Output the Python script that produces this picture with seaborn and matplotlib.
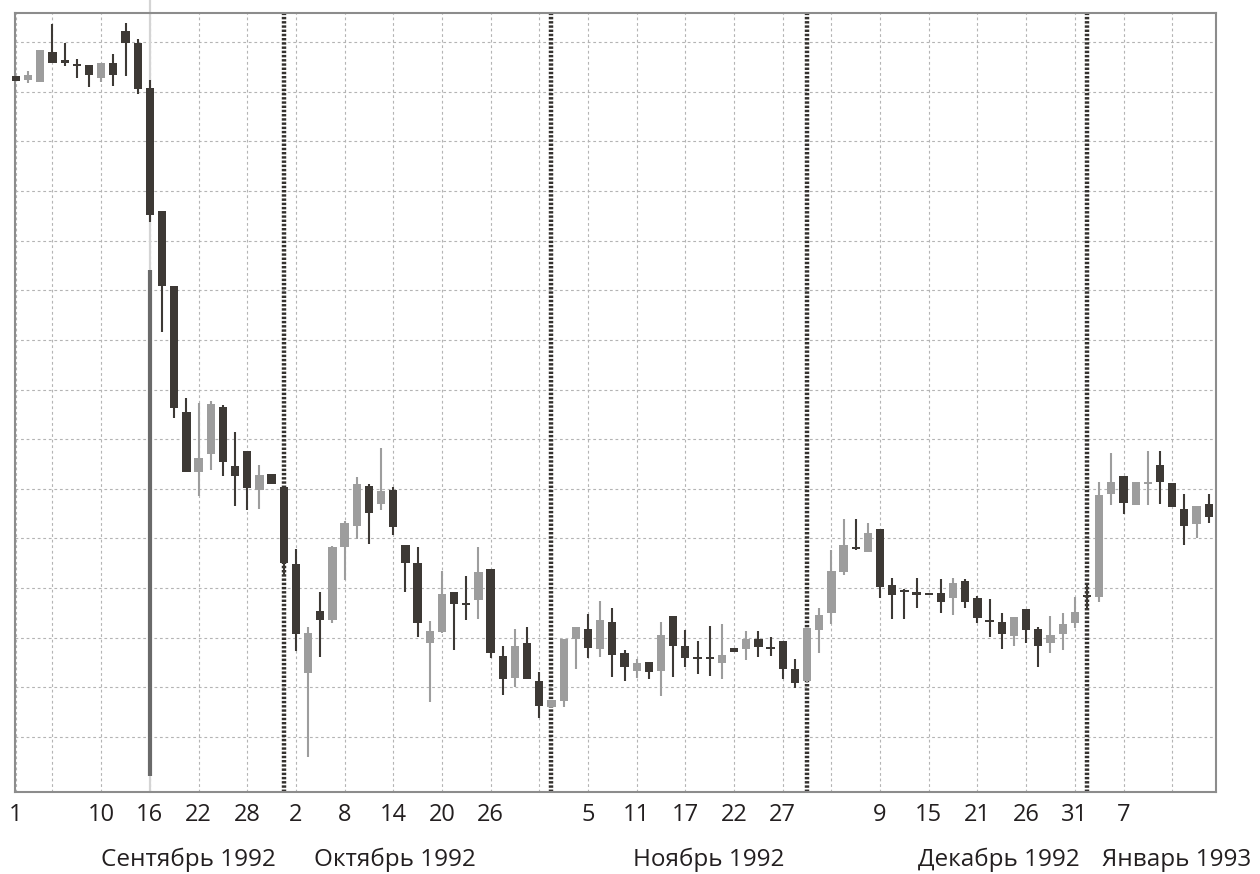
import numpy as np
import pandas as pd
import matplotlib
matplotlib.use("Agg")
import matplotlib.pyplot as plt
import matplotlib.transforms as mtransforms
import seaborn as sns

# ---------------- data (price level in chart units, one candle per trading day) ----------------
open_ = [712, 708, 706, 736, 728, 724, 723, 710, 725, 757,
         745, 700, 577, 502, 376, 316, 334, 381, 322, 337,
         298, 314, 301, 224, 115, 177, 168, 241, 262, 302,
         284, 298, 243, 225, 145, 156, 196, 185, 188, 219,
         132, 110, 145, 107, 81, 87, 149, 159, 139, 166,
         135, 117, 126, 117, 172, 142, 131, 131, 125, 140,
         139, 149, 141, 147, 119, 107, 158, 175, 216, 241,
         236, 259, 203, 198, 196, 195, 195, 190, 207, 190,
         168, 166, 152, 179, 159, 145, 154, 165, 193, 191,
         294, 312, 283, 304, 323, 305, 279, 264, 284]
high = [712, 717, 738, 764, 745, 729, 723, 725, 734, 765,
        749, 708, 577, 502, 390, 385, 387, 383, 356, 337,
        323, 314, 301, 239, 161, 196, 242, 267, 311, 304,
        340, 301, 243, 241, 167, 217, 196, 212, 241, 219,
        142, 159, 161, 116, 88, 149, 161, 174, 187, 180,
        138, 129, 126, 166, 172, 158, 147, 162, 164, 140,
        157, 157, 151, 147, 129, 160, 180, 238, 269, 269,
        265, 259, 210, 199, 210, 195, 209, 210, 209, 192,
        189, 175, 171, 179, 161, 172, 175, 191, 203, 306,
        335, 312, 306, 337, 337, 305, 294, 282, 294]
low = [707, 705, 706, 725, 722, 710, 701, 706, 702, 712,
       694, 566, 456, 370, 316, 292, 318, 312, 282, 278,
       279, 304, 212, 137, 31, 131, 165, 208, 249, 244,
       278, 253, 196, 151, 86, 155, 138, 168, 169, 130,
       93, 101, 109, 70, 81, 81, 119, 130, 131, 111,
       107, 110, 109, 92, 111, 121, 114, 112, 109, 136,
       128, 131, 132, 109, 100, 105, 135, 164, 213, 238,
       236, 190, 169, 169, 180, 193, 175, 173, 180, 165,
       151, 139, 142, 145, 121, 135, 138, 160, 178, 186,
       283, 274, 283, 283, 284, 281, 243, 250, 265]
close = [707, 713, 738, 725, 725, 722, 713, 725, 713, 745,
         699, 573, 502, 380, 316, 330, 384, 326, 312, 300,
         313, 304, 225, 154, 155, 168, 241, 265, 304, 275,
         297, 261, 225, 165, 157, 194, 184, 183, 216, 135,
         109, 142, 109, 82, 88, 149, 161, 140, 168, 133,
         121, 125, 116, 153, 142, 130, 129, 129, 133, 136,
         149, 141, 139, 119, 105, 160, 173, 217, 243, 239,
         255, 201, 193, 196, 193, 193, 186, 205, 186, 170,
         166, 154, 171, 158, 142, 153, 164, 176, 191, 293,
         306, 285, 306, 306, 306, 281, 262, 282, 271]

# extra intraday spike shown on 16 September 1992 (Black Wednesday)
spike_day = 11
spike_high = 518
spike_low = 12

# x axis labels (day of month) and month captions
tick_days = [0, 7, 11, 15, 19, 23, 27, 31, 35, 39, 47, 51, 55, 59, 63, 71, 75, 79, 83, 87, 91]
tick_labels = ["1", "10", "16", "22", "28", "2", "8", "14", "20", "26",
               "5", "11", "17", "22", "27", "9", "15", "21", "26", "31", "7"]
month_starts = [22, 44, 65, 88]
month_labels = ["Сентябрь 1992", "Октябрь 1992", "Ноябрь 1992", "Декабрь 1992", "Январь 1993"]
month_label_x = [14.15, 31.1, 56.9, 80.8, 95.4]

# ---------------- styling ----------------
sns.set_theme(style="white")
plt.rcParams['font.family'] = ['Open Sans', 'DejaVu Sans']

DARK = "#3d3935"
LIGHT = "#9d9d9d"

df = pd.DataFrame({"day": np.arange(len(open_)), "open": open_, "high": high,
                   "low": low, "close": close})
df["up"] = df["close"] > df["open"]
df["color"] = np.where(df["up"], LIGHT, DARK)
df["body_low"] = df[["open", "close"]].min(axis=1)
df["body_h"] = np.maximum((df["close"] - df["open"]).abs(), 2.5)

fig = plt.figure(figsize=(12.6, 8.74), dpi=100)
fig.patch.set_facecolor("white")
ax = fig.add_axes([15 / 1260, 82 / 874, 1201 / 1260, 779 / 874])
ax.set_facecolor("white")

n = len(df)
ax.set_xlim(-0.08, 98.6)
ax.set_ylim(-4, 775)

# grid
yt = np.linspace(51, 746, 15)
ax.set_yticks(yt)
ax.set_yticklabels([])
grid_days = list(range(3, n, 4))
xt = [0] + grid_days
lab = {d: t for d, t in zip(tick_days, tick_labels)}
ax.set_xticks(xt)
ax.set_xticklabels([lab.get(d, "") for d in xt], fontsize=17, color="#231f20")
ax.tick_params(axis="both", length=0)
ax.tick_params(axis="x", pad=8)
ax.grid(True, color="#b4b4b4", linestyle=(0, (2.5, 2.5)), linewidth=0.8)
ax.set_axisbelow(True)

# Black Wednesday marker line
trans = mtransforms.blended_transform_factory(ax.transData, ax.transAxes)
ax.plot([spike_day, spike_day], [0, 1.017], transform=trans, color="#d4d4d4",
        lw=1.6, zorder=1.5, clip_on=False)

# month separators
for m in month_starts:
    ax.axvline(m, color="#34312e", lw=3.2, linestyle=(0, (0.55, 0.4)), zorder=2)

# candles: wicks and bodies
ax.vlines(df["day"], df["low"], df["high"], colors=df["color"], lw=1.5, zorder=3,
          clip_on=False)
ax.bar(df["day"], df["body_h"], bottom=df["body_low"], width=0.68,
       color=df["color"], linewidth=0, zorder=4, clip_on=False)
ax.vlines([spike_day], [spike_low], [spike_high], colors="#6a6a6a", lw=3.0, zorder=3)

# frame
for s in ax.spines.values():
    s.set_visible(True)
    s.set_color("#8c8c8c")
    s.set_linewidth(1.5)

# month captions
for x, t in zip(month_label_x, month_labels):
    ax.text(x, -0.095, t, transform=trans, ha="center", va="baseline",
            fontsize=17.5, color="#231f20")

fig.savefig("out.png", dpi=100, facecolor="white")
